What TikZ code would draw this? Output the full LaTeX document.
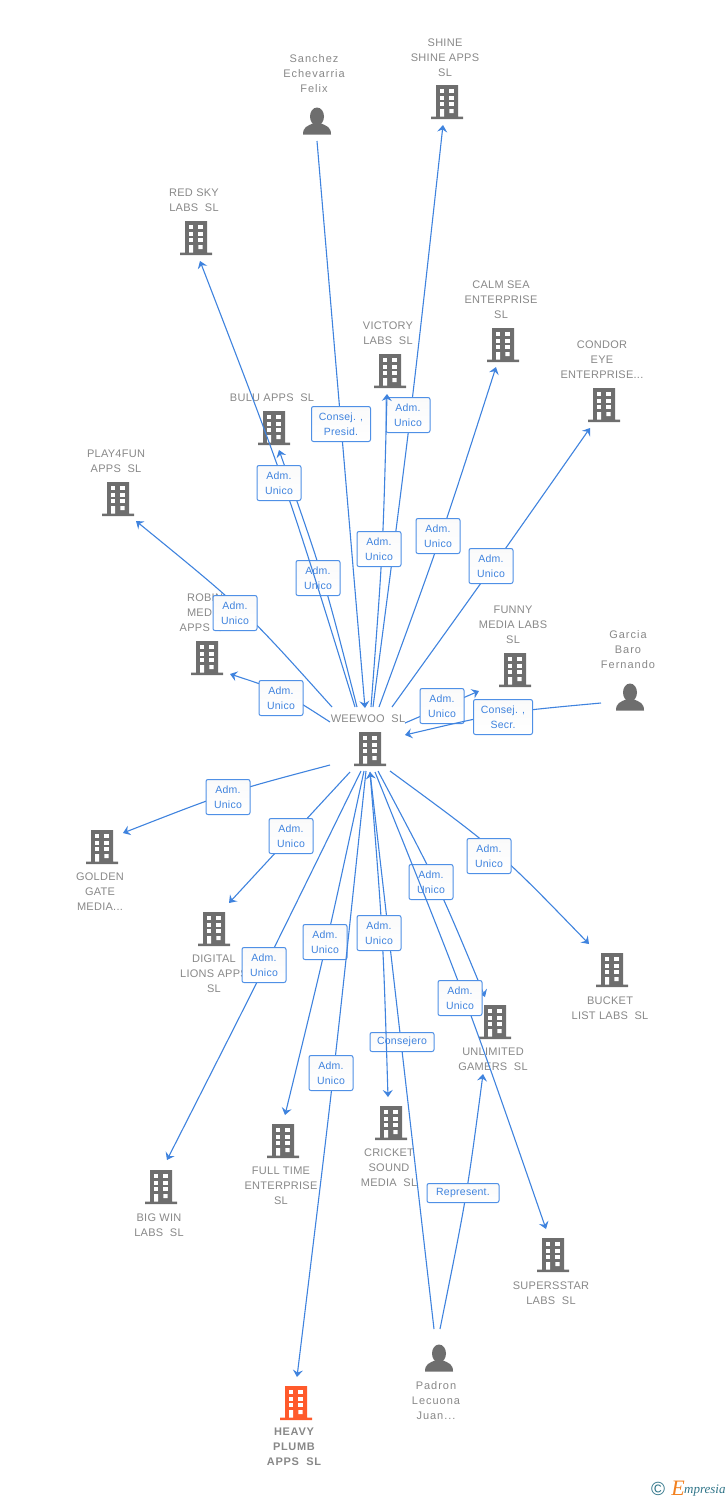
\documentclass[tikz,border=0pt]{standalone}
\usepackage{fontspec}
\setmainfont[LetterSpace=2.5]{Liberation Sans}
\newfontfamily\persontext[LetterSpace=9]{Liberation Sans}
\newfontfamily\heavytext[LetterSpace=6]{Liberation Sans}
\newfontfamily\logofont[Ligatures=TeX]{Liberation Serif}
\usetikzlibrary{arrows.meta}
\definecolor{linkblue}{HTML}{3F83DE}
\definecolor{boxblue}{HTML}{4F90E6}
\definecolor{iconGray}{HTML}{6E6E6E}
\definecolor{nameGray}{HTML}{888888}
\definecolor{plumb}{HTML}{FF5A2B}
\definecolor{logoteal}{HTML}{2F7488}
\definecolor{logoorange}{HTML}{F2801E}
\newcommand{\bldgicon}[1]{%
	\begin{scope}[shift={(path picture bounding box.center)}]
		\fill[#1] (-11,-17) rectangle (11,15) (-16,14.5) rectangle (16,17);
		\foreach \yy in {-13,-6.4,0.3} {
			\fill[white] (-7,\yy) rectangle +(4.2,4);
			\fill[white] (2.4,\yy) rectangle +(4.2,4);
		}
		\fill[white] (-7,7) rectangle (-2.8,14.5) (2.4,7) rectangle (6.6,11);
	\end{scope}}
\newcommand{\personicon}{%
	\begin{scope}[shift={(path picture bounding box.center)}]
		\fill[iconGray] (0,-4.5) ellipse (7 and 9);
		\fill[iconGray] (-14,13.5) .. controls (-14,6) and (-10,5) .. (-3,2) -- (3,2) .. controls (10,5) and (14,6) .. (14,13.5) -- cycle;
	\end{scope}}
\tikzset{
	bldg/.style={rectangle,inner sep=0,minimum width=33,minimum height=35,path picture={\bldgicon{#1}}},
	bldg/.default=iconGray,
	person/.style={rectangle,inner sep=0,minimum width=29,minimum height=28,path picture={\personicon}},
	compname/.style={text=nameGray,align=center,inner sep=0,yshift=-0.7,font=\fontsize{11}{15}\selectfont},
	personname/.style={compname,font=\persontext\fontsize{11}{15}\selectfont},
	heavyname/.style={compname,font=\heavytext\bfseries\fontsize{11}{15}\selectfont},
	rel/.style={linkblue,line width=1.1,-{Stealth[length=7,width=10,inset=2.5]}},
	role/.style={draw=boxblue,line width=1,rounded corners=2,top color=black!2,bottom color=white,inner sep=0,
		text=linkblue,align=center,minimum width=44,minimum height=35,font=\fontsize{10.5}{15}\selectfont},
	roleflat/.style={role,minimum height=19},
}
\begin{document}
\begin{tikzpicture}[x=1pt,y=-1pt]
	\useasboundingbox (0,0) rectangle (728,1500);
	% companies and people
	\node[person] (sanchez) at (317,121) {};
	\node[bldg] (shine) at (447,102) {};
	\node[bldg] (redsky) at (196,238) {};
	\node[bldg] (victory) at (390,371) {};
	\node[bldg] (calmsea) at (503,345) {};
	\node[bldg] (condor) at (604,405) {};
	\node[bldg] (bulu) at (274,428) {};
	\node[bldg] (play4fun) at (118,499) {};
	\node[bldg] (robin) at (207,658) {};
	\node[bldg] (funny) at (515,670) {};
	\node[person] (garcia) at (630,697) {};
	\node[bldg] (weewoo) at (370,749) {};
	\node[bldg] (golden) at (102,847) {};
	\node[bldg] (digital) at (214,929) {};
	\node[bldg] (bucket) at (612,970) {};
	\node[bldg] (unlimited) at (495,1022) {};
	\node[bldg] (cricket) at (391,1123) {};
	\node[bldg] (fulltime) at (283,1141) {};
	\node[bldg] (bigwin) at (161,1187) {};
	\node[bldg] (superstar) at (553,1255) {};
	\node[bldg=plumb] (heavy) at (296,1403) {};
	\node[person] (padron) at (439,1358) {};
	% names
	\node[personname] (sanchez name) at (314,73) {Sanchez\\Echevarria\\Felix};
	\node[compname] (shine name) at (445,57) {SHINE\\SHINE APPS\\SL};
	\node[compname] (redsky name) at (194,200) {RED SKY\\LABS~~SL};
	\node[compname] (victory name) at (388,333) {VICTORY\\LABS~~SL};
	\node[compname] (calmsea name) at (501,299) {CALM SEA\\ENTERPRISE\\SL};
	\node[compname] (condor name) at (602,359) {CONDOR\\EYE\\ENTERPRISE...};
	\node[compname] (bulu name) at (272,397) {BULU APPS~~SL};
	\node[compname] (play4fun name) at (116,461) {PLAY4FUN\\APPS~~SL};
	\node[compname] (robin name) at (205,612) {ROBIN\\MEDIA\\APPS~~SL};
	\node[compname] (funny name) at (513,624) {FUNNY\\MEDIA LABS\\SL};
	\node[personname] (garcia name) at (628,649) {Garcia\\Baro\\Fernando};
	\node[compname] (weewoo name) at (368,718) {WEEWOO~~SL};
	\node[compname] (golden name) at (100,891) {GOLDEN\\GATE\\MEDIA...};
	\node[compname] (digital name) at (214,973) {DIGITAL\\LIONS APPS\\SL};
	\node[compname] (bucket name) at (610,1007) {BUCKET\\LIST LABS~~SL};
	\node[compname] (unlimited name) at (493,1059) {UNLIMITED\\GAMERS~~SL};
	\node[compname] (cricket name) at (389,1167) {CRICKET\\SOUND\\MEDIA~~SL};
	\node[compname] (fulltime name) at (281,1185) {FULL TIME\\ENTERPRISE\\SL};
	\node[compname] (bigwin name) at (159,1224) {BIG WIN\\LABS~~SL};
	\node[compname] (superstar name) at (551,1292) {SUPERSSTAR\\LABS~~SL};
	\node[personname] (padron name) at (436,1400) {Padron\\Lecuona\\Juan...};
	\node[heavyname] (heavy name) at (294,1446) {HEAVY\\PLUMB\\APPS~~SL};
	% free ends of the links
	\coordinate (sanchez out) at (317,141);
	\coordinate (shine in) at (443,125);
	\coordinate (redsky in) at (200,261);
	\coordinate (victory in) at (387,394);
	\coordinate (calmsea in) at (496,367);
	\coordinate (condor in) at (590,428);
	\coordinate (bulu in) at (279,450);
	\coordinate (play4fun in) at (136,521);
	\coordinate (robin in) at (230,674);
	\coordinate (funny in) at (479,691);
	\coordinate (garcia out) at (601,703);
	\coordinate (golden in) at (123,833);
	\coordinate (digital in) at (229,903);
	\coordinate (bucket in) at (589,944);
	\coordinate (unlimited in) at (485,997);
	\coordinate (unlimited low) at (483,1074);
	\coordinate (cricket in) at (388,1097);
	\coordinate (fulltime in) at (285,1115);
	\coordinate (bigwin in) at (167,1160);
	\coordinate (superstar in) at (546,1229);
	\coordinate (heavy in) at (297,1377);
	\coordinate (padron out a) at (434,1329);
	\coordinate (padron out b) at (440,1329);
	\coordinate (hub top in) at (365,708);
	\coordinate (hub low in) at (370,772);
	\coordinate (hub right in) at (405,735);
	\coordinate (hub n1) at (355,707);
	\coordinate (hub n2) at (357,707);
	\coordinate (hub n3) at (371,707);
	\coordinate (hub n4) at (373,707);
	\coordinate (hub n5) at (379,707);
	\coordinate (hub n6) at (392,707);
	\coordinate (hub w1) at (332,707);
	\coordinate (hub w2) at (330,722);
	\coordinate (hub w3) at (330,765);
	\coordinate (hub e1) at (405,723);
	\coordinate (hub s1) at (350,772);
	\coordinate (hub s2) at (361,771);
	\coordinate (hub s3) at (364,771);
	\coordinate (hub s4) at (366,771);
	\coordinate (hub s5) at (370,772);
	\coordinate (hub s6) at (375,772);
	\coordinate (hub s7) at (378,771);
	\coordinate (hub s8) at (390,771);
	% links, each one under its own role box
	\draw[rel] (sanchez out) -- (hub top in);
	\node[role,minimum width=59] (role sanchez) at (341,424) {Consej. ,\\Presid.};
	\draw[rel] (hub n4) .. controls (411,416) .. (shine in);
	\node[role] (role shine) at (408,415) {Adm.\\Unico};
	\draw[rel] (hub n3) .. controls (383,550) .. (victory in);
	\node[role] (role victory) at (379,549) {Adm.\\Unico};
	\draw[rel] (hub n2) .. controls (324,578) .. (bulu in);
	\node[role] (role bulu) at (318,578) {Adm.\\Unico};
	\draw[rel] (hub n1) .. controls (286,484) .. (redsky in);
	\node[role] (role redsky) at (279,483) {Adm.\\Unico};
	\draw[rel] (hub n5) .. controls (441,538) .. (calmsea in);
	\node[role] (role calmsea) at (438,536) {Adm.\\Unico};
	\draw[rel] (hub n6) .. controls (492,568) .. (condor in);
	\node[role] (role condor) at (491,566) {Adm.\\Unico};
	\draw[rel] (hub w1) .. controls (245,610) .. (play4fun in);
	\node[role] (role play4fun) at (235,613) {Adm.\\Unico};
	\draw[rel] (hub w2) .. controls (282,691) .. (robin in);
	\node[role] (role robin) at (281,698) {Adm.\\Unico};
	\draw[rel] (hub w3) .. controls (228,792) .. (golden in);
	\node[role] (role golden) at (228,797) {Adm.\\Unico};
	\draw[rel] (hub s1) -- (digital in);
	\node[role] (role digital) at (291,836) {Adm.\\Unico};
	\draw[rel] (hub s2) .. controls (266,965) .. (bigwin in);
	\node[role] (role bigwin) at (264,965) {Adm.\\Unico};
	\draw[rel] (hub s3) .. controls (327,943) .. (fulltime in);
	\node[role] (role fulltime) at (325,942) {Adm.\\Unico};
	\draw[rel] (hub s4) .. controls (334,1074) .. (heavy in);
	\node[role] (role heavy) at (331,1073) {Adm.\\Unico};
	\draw[rel] (padron out a) -- (hub low in);
	\node[roleflat,minimum width=64] (role padron) at (402,1042) {Consejero};
	\draw[rel] (hub s5) .. controls (383,934) .. (cricket in);
	\node[role] (role cricket) at (379,933) {Adm.\\Unico};
	\draw[rel] (hub s7) .. controls (438,884) .. (unlimited in);
	\node[role] (role unlimited) at (431,882) {Adm.\\Unico};
	\draw[rel] (hub s6) .. controls (466,998) .. (superstar in);
	\node[role] (role superstar) at (460,998) {Adm.\\Unico};
	\draw[rel] (hub s8) .. controls (499,851) .. (bucket in);
	\node[role] (role bucket) at (489,856) {Adm.\\Unico};
	\draw[rel] (hub e1) -- (funny in);
	\node[role] (role funny) at (442,706) {Adm.\\Unico};
	\draw[rel] (garcia out) .. controls (503,712) .. (hub right in);
	\node[role,minimum width=59] (role garcia) at (503,717) {Consej. ,\\Secr.};
	\draw[rel] (padron out b) .. controls (467,1195) .. (unlimited low);
	\node[roleflat,minimum width=72] (role represent) at (463,1193) {Represent.};
	% logo
	\node[text=logoteal,inner sep=0,font=\fontsize{19}{19}\selectfont] (logo mark) at (658,1489) {\textcopyright};
	\node[text=logoorange,inner sep=0,font=\logofont\itshape\fontsize{22}{22}\selectfont] (logo e) at (678,1488) {E};
	\node[text=logoteal,inner sep=0,anchor=west,font=\logofont\itshape\fontsize{13}{14}\selectfont] (logo word) at (684,1491) {mpresia};
\end{tikzpicture}
\end{document}
